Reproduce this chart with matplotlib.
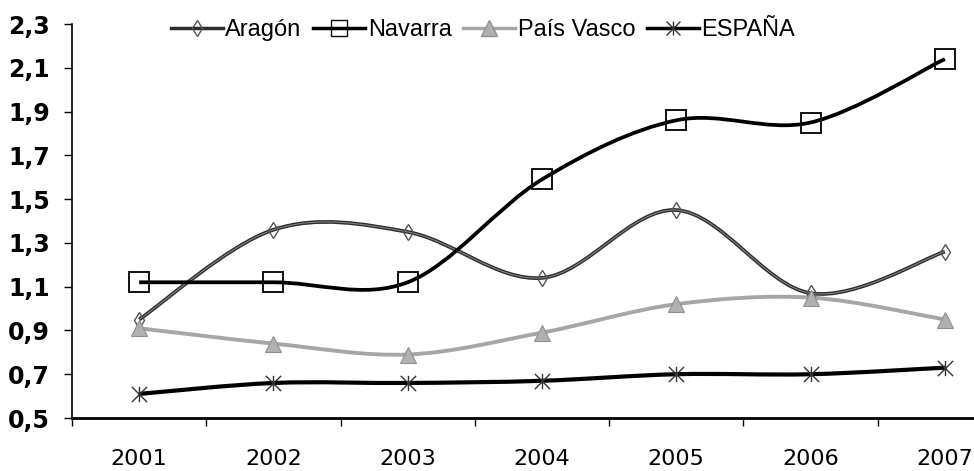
import numpy as np
import matplotlib.pyplot as plt
from matplotlib.path import Path
from matplotlib.patches import PathPatch
from matplotlib.lines import Line2D

# data
years = ['2001', '2002', '2003', '2004', '2005', '2006', '2007']
aragon = [0.95, 1.36, 1.35, 1.14, 1.45, 1.07, 1.26]
navarra = [1.12, 1.12, 1.12, 1.59, 1.86, 1.85, 2.14]
pais_vasco = [0.91, 0.84, 0.79, 0.89, 1.02, 1.05, 0.95]
espana = [0.61, 0.66, 0.66, 0.67, 0.70, 0.70, 0.73]
y_ticks = [0.5, 0.7, 0.9, 1.1, 1.3, 1.5, 1.7, 1.9, 2.1, 2.3]


def smooth_path(xs, ys):
    # excel style smoothed line: bezier segments with catmull-rom control points
    pts = np.column_stack([xs, ys]).astype(float)
    ext = np.vstack([pts[0], pts, pts[-1]])
    verts = [pts[0]]
    codes = [Path.MOVETO]
    for i in range(len(pts) - 1):
        p0, p1, p2, p3 = ext[i], ext[i + 1], ext[i + 2], ext[i + 3]
        verts += [p1 + (p2 - p0) / 6, p2 - (p3 - p1) / 6, p2]
        codes += [Path.CURVE4] * 3
    return Path(verts, codes)


# star marker (x with a vertical bar) like the excel one
star = Path([(-1, -1), (1, 1), (-1, 1), (1, -1), (0, -1), (0, 1)],
            [Path.MOVETO, Path.LINETO, Path.MOVETO, Path.LINETO, Path.MOVETO, Path.LINETO])

fig = plt.figure(figsize=(9.74, 4.71), dpi=100)
ax = fig.add_axes([72 / 974, 53 / 471, 940 / 974, 394 / 471])

x = np.arange(len(years))

# lines
ax.add_patch(PathPatch(smooth_path(x, espana), fill=False, ec='black', lw=3.0, zorder=2))
ax.add_patch(PathPatch(smooth_path(x, pais_vasco), fill=False, ec='#a6a6a6', lw=2.8, zorder=2))
ax.add_patch(PathPatch(smooth_path(x, aragon), fill=False, ec='#2e2e2e', lw=2.7, zorder=3))
ax.add_patch(PathPatch(smooth_path(x, aragon), fill=False, ec='#8a8a8a', lw=0.7, zorder=3))
ax.add_patch(PathPatch(smooth_path(x, navarra), fill=False, ec='black', lw=2.7, zorder=3))

# markers
ax.plot(x, aragon, ls='none', marker='d', ms=8, mfc='none', mec='#555555', mew=1.0, zorder=4)
ax.plot(x, navarra, ls='none', marker='s', ms=14, mfc='none', mec='#111111', mew=1.4, zorder=4)
ax.plot(x, pais_vasco, ls='none', marker='^', ms=12, mfc='#b0b0b0', mec='#909090', mew=0.8, zorder=4)
ax.plot(x, espana, ls='none', marker=star, ms=11, mfc='none', mec='#333333', mew=1.0, zorder=4)

ax.set_xlim(-0.5, len(years) - 0.5)
ax.set_ylim(0.5, 2.3)

# category labels in the middle, tick marks between categories
ax.set_xticks(x, years, fontsize=16, family='DejaVu Sans')
ax.tick_params(axis='x', which='major', length=0, pad=22)
ax.set_xticks(np.arange(-0.5, len(years), 1), minor=True)
ax.tick_params(axis='x', which='minor', length=6, width=1, direction='out')

ax.set_yticks(y_ticks, [f'{v:.1f}'.replace('.', ',') for v in y_ticks],
              fontsize=17, fontweight='bold', family='DejaVu Sans')
ax.tick_params(axis='y', length=6, width=1, direction='out', pad=10)

ax.spines['top'].set_visible(False)
ax.spines['right'].set_visible(False)
ax.spines['left'].set_linewidth(1.2)
ax.spines['bottom'].set_linewidth(2.0)

handles = [
    Line2D([], [], color='#2e2e2e', lw=2.5, marker='d', ms=8, mfc='none', mec='#555555'),
    Line2D([], [], color='black', lw=2.5, marker='s', ms=12, mfc='none', mec='#111111'),
    Line2D([], [], color='#a6a6a6', lw=2.5, marker='^', ms=11, mfc='#b0b0b0', mec='#909090'),
    Line2D([], [], color='black', lw=2.5, marker=star, ms=10, mfc='none', mec='#333333'),
]
fig.legend(handles, ['Aragón', 'Navarra', 'País Vasco', 'ESPAÑA'],
           loc='center', bbox_to_anchor=(483 / 974, 1 - 30 / 471), ncol=4,
           frameon=False, handlelength=2.2, handletextpad=0.1, columnspacing=0.5,
           prop={'family': 'Liberation Sans', 'size': 17})

fig.savefig('out.png', dpi=100)
